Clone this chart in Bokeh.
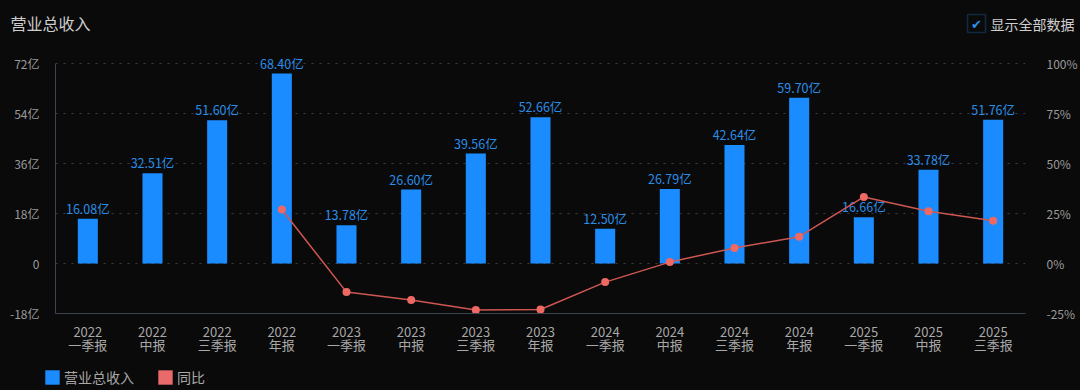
from bokeh.plotting import figure
from bokeh.layouts import column
from bokeh.models import (ColumnDataSource, Range1d, LinearAxis, FixedTicker, Label,
                          Legend, LegendItem, BoxAnnotation, FactorRange)
from bokeh.embed import file_html
from bokeh.resources import INLINE
from bokeh.core.properties import value

# ---------------- data ----------------
periods = ["2022\n一季报", "2022\n中报", "2022\n三季报", "2022\n年报",
           "2023\n一季报", "2023\n中报", "2023\n三季报", "2023\n年报",
           "2024\n一季报", "2024\n中报", "2024\n三季报", "2024\n年报",
           "2025\n一季报", "2025\n中报", "2025\n三季报"]
revenue = [16.08, 32.51, 51.60, 68.40, 13.78, 26.60, 39.56, 52.66,
           12.50, 26.79, 42.64, 59.70, 16.66, 33.78, 51.76]
revenue_labels = ["16.08亿", "32.51亿", "51.60亿", "68.40亿", "13.78亿", "26.60亿",
                  "39.56亿", "52.66亿", "12.50亿", "26.79亿", "42.64亿", "59.70亿",
                  "16.66亿", "33.78亿", "51.76亿"]
nan = float("nan")
yoy = [nan, nan, nan, 27.0, -14.3, -18.2, -23.3, -23.0,
       -9.3, 0.7, 7.8, 13.4, 33.3, 26.1, 21.4]
left_ticks = [-18, 0, 18, 36, 54, 72]
left_tick_labels = ["-18亿", "0", "18亿", "36亿", "54亿", "72亿"]
right_ticks = [-25, 0, 25, 50, 75, 100]
right_tick_labels = ["-25%", "0%", "25%", "50%", "75%", "100%"]
legend_labels = ["营业总收入", "同比"]

# ---------------- style ----------------
FONT = "Noto Sans CJK SC"
BG = "#0a0a0a"
BAR = "#1a8cff"
BAR_TEXT = "#2a8ee8"
LINE = "#cf5752"
DOT = "#ef6964"
LEG_RED = "#e86a6a"
TICK_TEXT = "#9a9a9a"
AXIS_LINE = "#3e4450"
W = 1080
STY = {"background-color": BG}


def bare(h):
    f = figure(width=W, height=h, x_range=Range1d(0, W), y_range=Range1d(h, 0),
               x_axis_type=None, y_axis_type=None,
               output_backend="svg", toolbar_location=None,
               background_fill_color=BG, border_fill_color=BG, outline_line_color=None,
               min_border_left=0, min_border_right=0, min_border_top=0, min_border_bottom=0,
               styles=STY)
    f.frame_align = False
    f.grid.visible = False
    return f


# ---------------- header ----------------
head = bare(48)
head.add_layout(Label(x=10, y=22, text="营业总收入", text_baseline="middle", text_align="left",
                      text_font=FONT, text_font_size="16px", text_color="#cfcfcf"))
head.add_layout(BoxAnnotation(left=967, right=985, top=14, bottom=32,
                              fill_alpha=0, line_color="#2377c4", line_width=1.6))
head.add_layout(Label(x=976, y=23.5, text="✔", text_baseline="middle", text_align="center",
                      text_font="DejaVu Sans", text_font_size="13px",
                      text_color="#2f8fe6"))
head.add_layout(Label(x=990, y=23, text="显示全部数据", text_baseline="middle", text_align="left",
                      text_font=FONT, text_font_size="14px", text_color="#cfcfcf"))

# ---------------- main chart ----------------
top_pad = 3.6           # extra room above 72 so the value labels are not clipped
p = figure(width=W, height=310,
           x_range=FactorRange(*periods),
           y_range=Range1d(-18, 72 + top_pad),
           output_backend="svg", toolbar_location=None,
           background_fill_color=BG, border_fill_color=BG,
           outline_line_color=None,
           min_border_left=55, min_border_right=50,
           min_border_top=5, min_border_bottom=45, styles=STY)
p.frame_align = False
p.extra_y_ranges = {"pct": Range1d(-25, 100 + top_pad * 125 / 90)}

ya = p.yaxis[0]
ya.ticker = FixedTicker(ticks=left_ticks)
ya.major_label_overrides = dict(zip(left_ticks, left_tick_labels))
ya.bounds = (-18, 72)
ya.major_tick_line_color = None
ya.minor_tick_line_color = None
ya.axis_line_color = AXIS_LINE
ya.major_label_text_color = TICK_TEXT
ya.major_label_text_font = FONT
ya.major_label_text_font_size = "12px"
ya.major_label_standoff = 10

ra = LinearAxis(y_range_name="pct", ticker=FixedTicker(ticks=right_ticks))
ra.major_label_overrides = dict(zip(right_ticks, right_tick_labels))
ra.major_tick_line_color = None
ra.minor_tick_line_color = None
ra.axis_line_color = None
ra.major_label_text_color = TICK_TEXT
ra.major_label_text_font = FONT
ra.major_label_text_font_size = "12px"
ra.major_label_standoff = 15
p.add_layout(ra, "right")

xa = p.xaxis[0]
xa.major_tick_line_color = None
xa.axis_line_color = AXIS_LINE
xa.major_label_text_color = "#a8a8a8"
xa.major_label_text_font = FONT
xa.major_label_text_font_size = "13px"
xa.major_label_standoff = 2
xa.major_label_text_line_height = 0.72

p.xgrid.grid_line_color = None
p.ygrid.ticker = FixedTicker(ticks=left_ticks[1:])
p.ygrid.grid_line_color = "#3a3a3a"
p.ygrid.grid_line_dash = "2 6"

src = ColumnDataSource(dict(period=periods, revenue=revenue, label=revenue_labels))
bars = p.vbar(x="period", top="revenue", width=0.31, source=src,
              fill_color=BAR, line_color=None)
p.text(x="period", y="revenue", text="label", source=src,
       text_align="center", text_baseline="bottom", y_offset=-1,
       text_font=value(FONT), text_font_size="12.5px", text_color=BAR_TEXT)

lsrc = ColumnDataSource(dict(period=periods, yoy=yoy))
p.line(x="period", y="yoy", source=lsrc, y_range_name="pct",
       line_color=LINE, line_width=1.5)
p.scatter(x="period", y="yoy", source=lsrc, y_range_name="pct",
          size=8, fill_color=DOT, line_color=None)

# ---------------- legend strip ----------------
foot = bare(32)
# zero-height proxies: they draw nothing, they only supply the legend swatches
r_rev = foot.vbar(x=[0], top=[0], width=1, fill_color=BAR, line_color=None)
r_yoy = foot.vbar(x=[0], top=[0], width=1, fill_color=LEG_RED, line_color=None)
legend = Legend(items=[LegendItem(label=legend_labels[0], renderers=[r_rev]),
                       LegendItem(label=legend_labels[1], renderers=[r_yoy])],
                orientation="horizontal", location=(43, 3),
                padding=0, margin=0, spacing=22, label_standoff=3,
                glyph_width=18, glyph_height=18,
                border_line_color=None, background_fill_alpha=0,
                label_text_font=FONT, label_text_font_size="14px",
                label_text_color="#a8a8a8")
foot.add_layout(legend)

layout = column(head, p, foot, spacing=0, styles=STY)
open("out.html", "w").write(file_html(layout, INLINE))
